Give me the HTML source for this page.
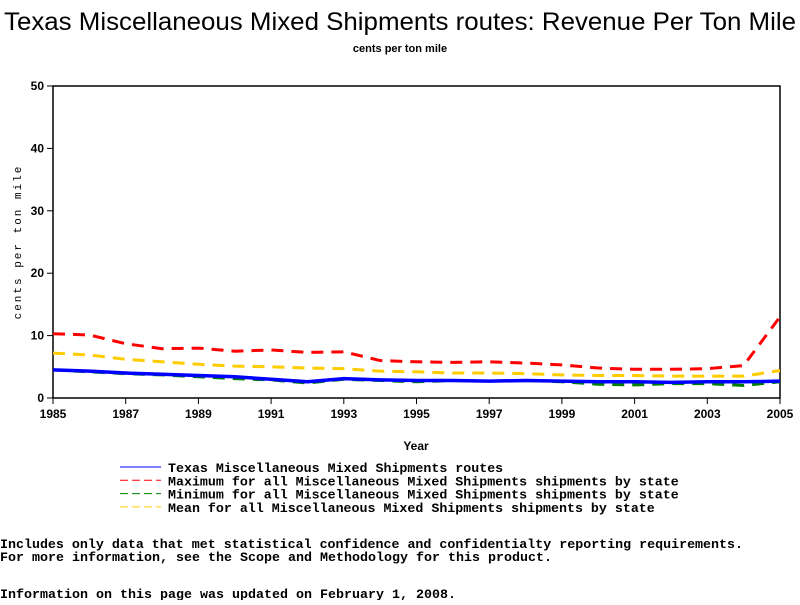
<!DOCTYPE html>
<html><head><meta charset="utf-8"><style>
body{margin:0;background:#fff;width:800px;height:600px;overflow:hidden;font-family:"Liberation Mono",monospace}
svg text{fill:#000}
</style></head><body>
<svg width="800" height="600">
<text x="400" y="30" text-anchor="middle" font-family="Liberation Sans,sans-serif" font-size="25" textLength="792" lengthAdjust="spacingAndGlyphs">Texas Miscellaneous Mixed Shipments routes: Revenue Per Ton Mile</text>
<text x="400" y="52" text-anchor="middle" font-family="Liberation Sans,sans-serif" font-size="11" font-weight="bold">cents per ton mile</text>
<g id="axes"></g>
<g id="series"></g>
<text x="416" y="450" text-anchor="middle" font-family="Liberation Sans,sans-serif" font-size="12" font-weight="bold">Year</text>
<text transform="translate(21,242) rotate(-90)" text-anchor="middle" font-family="Liberation Mono,monospace" font-size="11" letter-spacing="2">cents per ton mile</text>
<g id="legend" font-family="Liberation Mono,monospace" font-size="13" font-weight="bold"></g>
<g font-family="Liberation Mono,monospace" font-size="13" font-weight="bold">
<text x="0" y="548" textLength="743" lengthAdjust="spacingAndGlyphs">Includes only data that met statistical confidence and confidentialty reporting requirements.</text>
<text x="0" y="561" textLength="552" lengthAdjust="spacingAndGlyphs">For more information, see the Scope and Methodology for this product.</text>
<text x="0" y="598" textLength="456" lengthAdjust="spacingAndGlyphs">Information on this page was updated on February 1, 2008.</text>
</g>
</svg>
<script>
const years=[1985,1986,1987,1988,1989,1990,1991,1992,1993,1994,1995,1996,1997,1998,1999,2000,2001,2002,2003,2004,2005];
const maxVals=[10.3,10.1,8.7,7.9,8.0,7.5,7.7,7.3,7.4,6.0,5.8,5.7,5.8,5.6,5.3,4.8,4.6,4.6,4.7,5.2,13.0];
const meanVals=[7.2,6.9,6.2,5.8,5.4,5.1,5.0,4.8,4.7,4.3,4.2,4.0,4.0,3.9,3.7,3.6,3.6,3.5,3.5,3.5,4.4];
const minVals=[4.5,4.2,3.9,3.7,3.4,3.1,2.9,2.4,3.0,2.8,2.6,2.8,2.7,2.8,2.6,2.2,2.1,2.3,2.3,2.0,2.6];
const texasVals=[4.5,4.3,4.0,3.8,3.6,3.4,3.0,2.6,3.1,2.9,2.8,2.8,2.7,2.8,2.7,2.6,2.6,2.5,2.6,2.6,2.7];
const yTicks=[0,10,20,30,40,50];
const xTicks=[1985,1987,1989,1991,1993,1995,1997,1999,2001,2003,2005];
const NS="http://www.w3.org/2000/svg";
const X0=53,X1=780,Y0=398,Y1=86;
const xs=v=>X0+(v-1985)/20*(X1-X0);
const ys=v=>Y0-v/50*(Y0-Y1);
function mk(t,a,p){const e=document.createElementNS(NS,t);for(const k in a)e.setAttribute(k,a[k]);p.appendChild(e);return e;}
const ax=document.getElementById('axes');
const frame=mk('rect',{x:X0,y:Y1,width:X1-X0,height:Y0-Y1,fill:'none',stroke:'#000','stroke-width':1.5},ax);


yTicks.forEach(v=>{
  mk('line',{x1:X0-6,x2:X0,y1:ys(v),y2:ys(v),stroke:'#000'},ax);
  const t=mk('text',{x:X0-9,y:ys(v)+4,'text-anchor':'end','font-family':'Liberation Sans,sans-serif','font-size':12,'font-weight':'bold'},ax);
  t.textContent=v;
  
  
});
xTicks.forEach(v=>{
  mk('line',{x1:xs(v),x2:xs(v),y1:Y0,y2:Y0+6,stroke:'#000'},ax);
  const t=mk('text',{x:xs(v),y:Y0+20,'text-anchor':'middle','font-family':'Liberation Sans,sans-serif','font-size':12,'font-weight':'bold'},ax);
  t.textContent=v;
  
  
});
const sg=document.getElementById('series');
const series=[
 {vals:maxVals,color:'#ff0000',dash:'12,8',name:'max-line',w:3},
 {vals:meanVals,color:'#ffcc00',dash:'12,8',name:'mean-line',w:3},
 {vals:minVals,color:'#008000',dash:'12,8',name:'min-line',w:3},
 {vals:texasVals,color:'#0000ff',dash:'',name:'texas-line',w:3.5}];
series.forEach(s=>{
  const d=s.vals.map((v,i)=>(i?'L':'M')+xs(years[i])+','+ys(v)).join(' ');
  const p=mk('path',{d:d,fill:'none',stroke:s.color,'stroke-width':s.w,'stroke-dasharray':s.dash},sg);
  
  
});
const lg=document.getElementById('legend');
const legendLabels=['Texas Miscellaneous Mixed Shipments routes','Maximum for all Miscellaneous Mixed Shipments shipments by state','Minimum for all Miscellaneous Mixed Shipments shipments by state','Mean for all Miscellaneous Mixed Shipments shipments by state'];
const legendColors=['#0000ff','#ff0000','#008000','#ffcc00'];
legendLabels.forEach((l,i)=>{
  const y=468+i*13.3;
  const ln=mk('line',{x1:120,x2:161,y1:y-1,y2:y-1,stroke:legendColors[i],'stroke-width':1,'stroke-dasharray':i?'8,4':''},lg);
  
  
  const t=mk('text',{x:168,y:y+4,textLength:l.length*7.98,lengthAdjust:'spacingAndGlyphs'},lg);
  t.textContent=l;
  
  
});
</script>
</body></html>
